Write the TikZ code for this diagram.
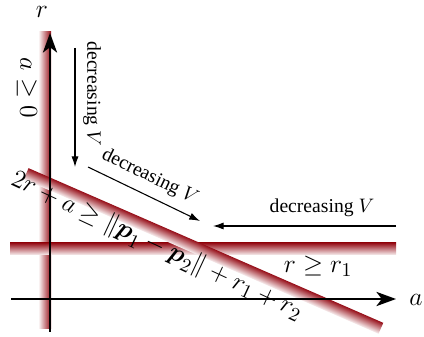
\documentclass[tikz,border=0pt]{standalone}
\usepackage{amsmath}
\usepackage{amssymb}
\usepackage{fontspec}
\setmainfont{Liberation Serif}
\usetikzlibrary{arrows.meta, positioning}
\definecolor{bandred}{RGB}{150,14,24}

\begin{document}
\begin{tikzpicture}[x=0.56pt, y=-0.56pt,
        band/.style={inner sep=0pt, outer sep=0pt, minimum height={12*0.56pt},
            top color=bandred, bottom color=bandred!6},
        vband/.style={inner sep=0pt, outer sep=0pt, minimum width={12*0.56pt},
            left color=bandred!6, right color=bandred},
        axis/.style={line width=0.8pt, -{Stealth[length=11pt, width=8pt, inset=3pt]}},
        decr/.style={line width=0.6pt, -{Latex[length=6pt, width=4pt]}},
        lab/.style={font=\fontsize{15}{18}\selectfont, inner sep=0pt},
        note/.style={font=\fontsize{11}{13}\selectfont, inner sep=0pt}]

    \useasboundingbox (0,0) rectangle (424,337);

    % constraint bands
    \node[vband, minimum height={297*0.56pt}] (aband) at (45,180.5) {};
    \node[band, minimum width={386*0.56pt}] (rband) at (203,249) {};
    \begin{scope}[transform canvas={rotate around={-23.56:(203.5,251)}}]
        \node[band, minimum width={387*0.56pt}] (dband) at (203.5,251) {};
    \end{scope}

    % axes
    \coordinate (rbot) at (50,332);
    \coordinate (rtop) at (50,33);
    \coordinate (aleft) at (11,299);
    \coordinate (aright) at (396,299);
    \draw[axis] (rbot) -- (rtop);
    \draw[axis] (aleft) -- (aright);
    \node[lab, anchor=base] (rlab) at (42,18) {$r$};
    \node[lab] (alab) at (416,300) {$a$};

    % directions of decreasing V
    \coordinate (v1s) at (75,48);
    \coordinate (v1e) at (75,167);
    \coordinate (v2s) at (88,167);
    \coordinate (v2e) at (200,221);
    \coordinate (v3s) at (396,226);
    \coordinate (v3e) at (213,226);
    \draw[decr] (v1s) -- (v1e);
    \draw[decr] (v2s) -- (v2e);
    \draw[decr] (v3s) -- (v3e);
    \node[note, rotate=-90] (n1) at (92,94) {decreasing $V$};
    \node[note, rotate=-25.7] (n2) at (150,177) {decreasing $V$};
    \node[note] (n3) at (322,208) {decreasing $V$};

    % constraints
    \node[lab, rotate=-90] (c1) at (27,88) {$a \geq 0$};
    \node[lab] (c2) at (318,266) {$r \geq r_1$};
    \node[lab, rotate=-25] (c3) at (157,246)
        {$2r + a \geq \|\boldsymbol{p}_1 - \boldsymbol{p}_2\| + r_1 + r_2$};

\end{tikzpicture}
\end{document}
